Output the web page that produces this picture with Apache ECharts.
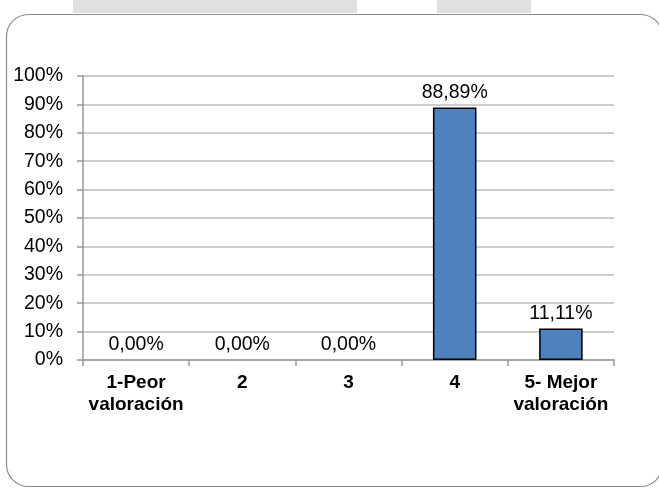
<!DOCTYPE html>
<html>
<head>
<meta charset="utf-8">
<script src="https://cdn.jsdelivr.net/npm/echarts@6/dist/echarts.min.js"></script>
<style>
html,body{margin:0;padding:0;background:#fff;}
#c{width:659px;height:488px;}
</style>
</head>
<body>
<div id="c"></div>
<script>
var categories = ['1-Peor\nvaloración', '2', '3', '4', '5- Mejor\nvaloración'];
var values = [0, 0, 0, 88.89, 11.11];
var yTicks = [0, 10, 20, 30, 40, 50, 60, 70, 80, 90, 100];

var chart = echarts.init(document.getElementById('c'), null, {renderer: 'canvas'});
var font = '"Liberation Sans", Arial, sans-serif';
var barData = values.map(function (v) {
  return v === 0 ? {value: v, itemStyle: {borderWidth: 0}} : {value: v};
});
chart.setOption({
  animation: false,
  backgroundColor: '#fff',
  graphic: [
    {type: 'rect', shape: {x: 73, y: 0, width: 284, height: 13}, style: {fill: '#e0e0e0'}, z: -10},
    {type: 'rect', shape: {x: 437, y: 0, width: 94, height: 13}, style: {fill: '#e0e0e0'}, z: -10},
    {type: 'rect', shape: {x: 6.5, y: 14.5, width: 656, height: 472, r: 22}, style: {fill: 'none', stroke: '#8a8a8a', lineWidth: 1.2}, z: -5}
  ],
  grid: {left: 83, right: 45, top: 76, bottom: 128},
  xAxis: {
    type: 'category',
    data: categories,
    axisLine: {lineStyle: {color: '#999', width: 1.5}},
    axisTick: {show: true, length: 6, lineStyle: {color: '#999', width: 1.5}},
    axisLabel: {
      interval: 0,
      color: '#000',
      fontFamily: font,
      fontSize: 19,
      fontWeight: 'bold',
      lineHeight: 22,
      margin: 12
    }
  },
  yAxis: {
    type: 'value',
    min: 0,
    max: 100,
    interval: 10,
    axisLine: {show: true, lineStyle: {color: '#999', width: 1.5}},
    axisTick: {show: true, length: 6, lineStyle: {color: '#999', width: 1.5}},
    splitLine: {lineStyle: {color: '#bdbdbd', width: 1.5}},
    axisLabel: {
      color: '#000',
      fontFamily: font,
      fontSize: 19.5,
      margin: 20,
      formatter: function (v) { return yTicks.indexOf(v) >= 0 ? v + '%' : ''; }
    }
  },
  series: [{
    type: 'bar',
    data: barData,
    barWidth: '41%',
    itemStyle: {color: '#4f81bd', borderColor: '#000', borderWidth: 1.5},
    label: {
      show: true,
      position: 'top',
      distance: 5,
      color: '#000',
      fontFamily: font,
      fontSize: 19.5,
      formatter: function (p) { return p.value.toFixed(2).replace('.', ',') + '%'; }
    }
  }]
});
</script>
</body>
</html>
